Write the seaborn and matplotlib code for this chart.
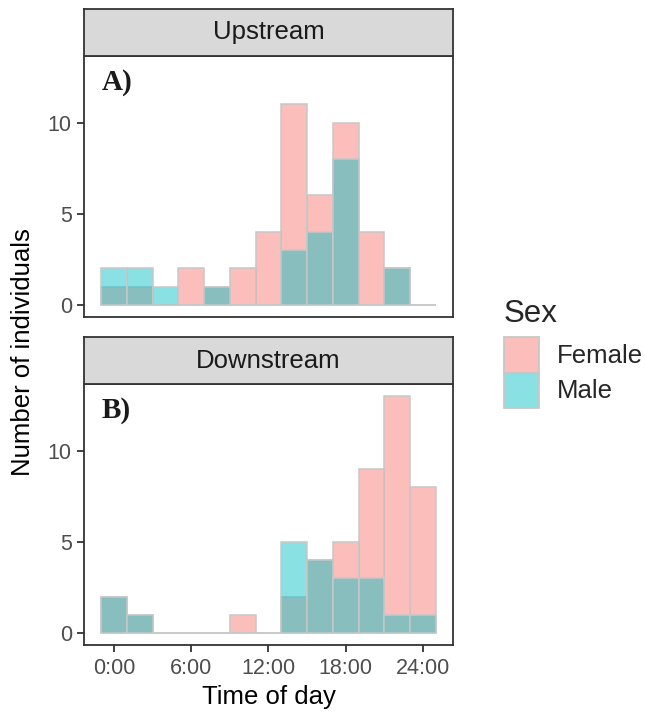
import numpy as np
import pandas as pd
import matplotlib
matplotlib.use("Agg")
import matplotlib.pyplot as plt
from matplotlib.patches import Patch
import seaborn as sns

# ---- data ----
bin_centers = [0, 2, 4, 6, 8, 10, 12, 14, 16, 18, 20, 22, 24]
up_female = [1, 1, 0, 2, 1, 2, 4, 11, 6, 10, 4, 2, 0]
up_male = [2, 2, 1, 0, 1, 0, 0, 3, 4, 8, 0, 2, 0]
down_female = [2, 1, 0, 0, 0, 1, 0, 2, 4, 5, 9, 13, 8]
down_male = [2, 1, 0, 0, 0, 0, 0, 5, 4, 3, 3, 1, 1]
facets = ["Upstream", "Downstream"]
panel_tags = ["A)", "B)"]
sexes = ["Female", "Male"]
x_ticks = [0, 6, 12, 18, 24]
x_ticklabels = ["0:00", "6:00", "12:00", "18:00", "24:00"]
y_ticks = [0, 5, 10]

rows = []
for site, fem, mal in [("Upstream", up_female, up_male), ("Downstream", down_female, down_male)]:
    for c, f, m in zip(bin_centers, fem, mal):
        rows.append((site, "Female", c, f))
        rows.append((site, "Male", c, m))
df = pd.DataFrame(rows, columns=["Site", "Sex", "Hour", "Count"])

sns.set_style("white")
plt.rcParams["font.family"] = ["Liberation Sans", "DejaVu Sans"]

fill = {"Female": (248/255, 118/255, 109/255, 0.47),
        "Male": (0/255, 191/255, 196/255, 0.46)}
edge = "#C8C8C8"
dark = "#333333"

W, H = 645, 713
fig = plt.figure(figsize=(W/100, H/100), dpi=100)

def fr(l, t, r, b):
    return [l/W, 1-b/H, (r-l)/W, (b-t)/H]

panel_px = [(84.3, 56, 452.7, 316.7), (84.3, 384, 452.7, 645)]
strip_px = [(84.3, 9, 452.7, 56), (84.3, 337, 452.7, 384)]

for i, site in enumerate(facets):
    ax = fig.add_axes(fr(*panel_px[i]))
    sub = df[df["Site"] == site]
    for sex in sexes:
        d = sub[sub["Sex"] == sex]
        n_before = len(ax.patches)
        sns.histplot(data=d, x="Hour", weights="Count", binwidth=2, binrange=(-1, 25),
                     ax=ax, stat="count", element="bars", fill=True)
        for p in ax.patches[n_before:]:
            p.set_alpha(None)
            p.set_facecolor(fill[sex])
            p.set_edgecolor(edge)
            p.set_linewidth(1.1)
    ax.set_xlim(-2.3, 26.3)
    ax.set_ylim(-0.65, 13.65)
    ax.set_xlabel("")
    ax.set_ylabel("")
    ax.set_yticks(y_ticks)
    ax.set_xticks(x_ticks)
    for s in ax.spines.values():
        s.set_color(dark)
        s.set_linewidth(1.3)
        s.set_visible(True)
    ax.tick_params(axis="both", colors=dark, width=1.3, length=5, pad=4,
                   labelsize=15.5, labelcolor="#4D4D4D", left=True, bottom=True)
    if i == 0:
        ax.tick_params(axis="x", bottom=False, labelbottom=False)
    else:
        ax.set_xticklabels(x_ticklabels)
    ax.grid(False)
    ax.text(0.047, 0.87, panel_tags[i], transform=ax.transAxes,
            fontfamily="Liberation Serif", fontweight="bold", fontsize=21,
            color="#1A1A1A", ha="left", va="baseline")

    sax = fig.add_axes(fr(*strip_px[i]))
    sax.set_facecolor("#D9D9D9")
    sax.set_xticks([])
    sax.set_yticks([])
    for s in sax.spines.values():
        s.set_color(dark)
        s.set_linewidth(1.3)
        s.set_visible(True)
    sax.text(0.5, 0.5, site, transform=sax.transAxes, ha="center", va="center",
             fontsize=18.5, color="#1A1A1A")

fig.text(23/W, 1-352/H, "Number of individuals", rotation=90, ha="center",
         va="center", fontsize=18.5, color="black")
fig.text(268.5/W, 1-697/H, "Time of day", ha="center", va="center",
         fontsize=18.5, color="black")

handles = [Patch(facecolor=fill[s], edgecolor=edge, linewidth=1.3) for s in sexes]
leg = fig.legend(handles, sexes, loc="upper left", bbox_to_anchor=(486/W, 1-281/H),
                 frameon=False, title="Sex", title_fontsize=22.5, fontsize=18.5,
                 handlelength=1.37, handleheight=1.73, labelspacing=0.0,
                 handletextpad=0.7, borderpad=0.2, alignment="left")
leg._legend_box.sep = 6

fig.savefig("out.png", dpi=100)
